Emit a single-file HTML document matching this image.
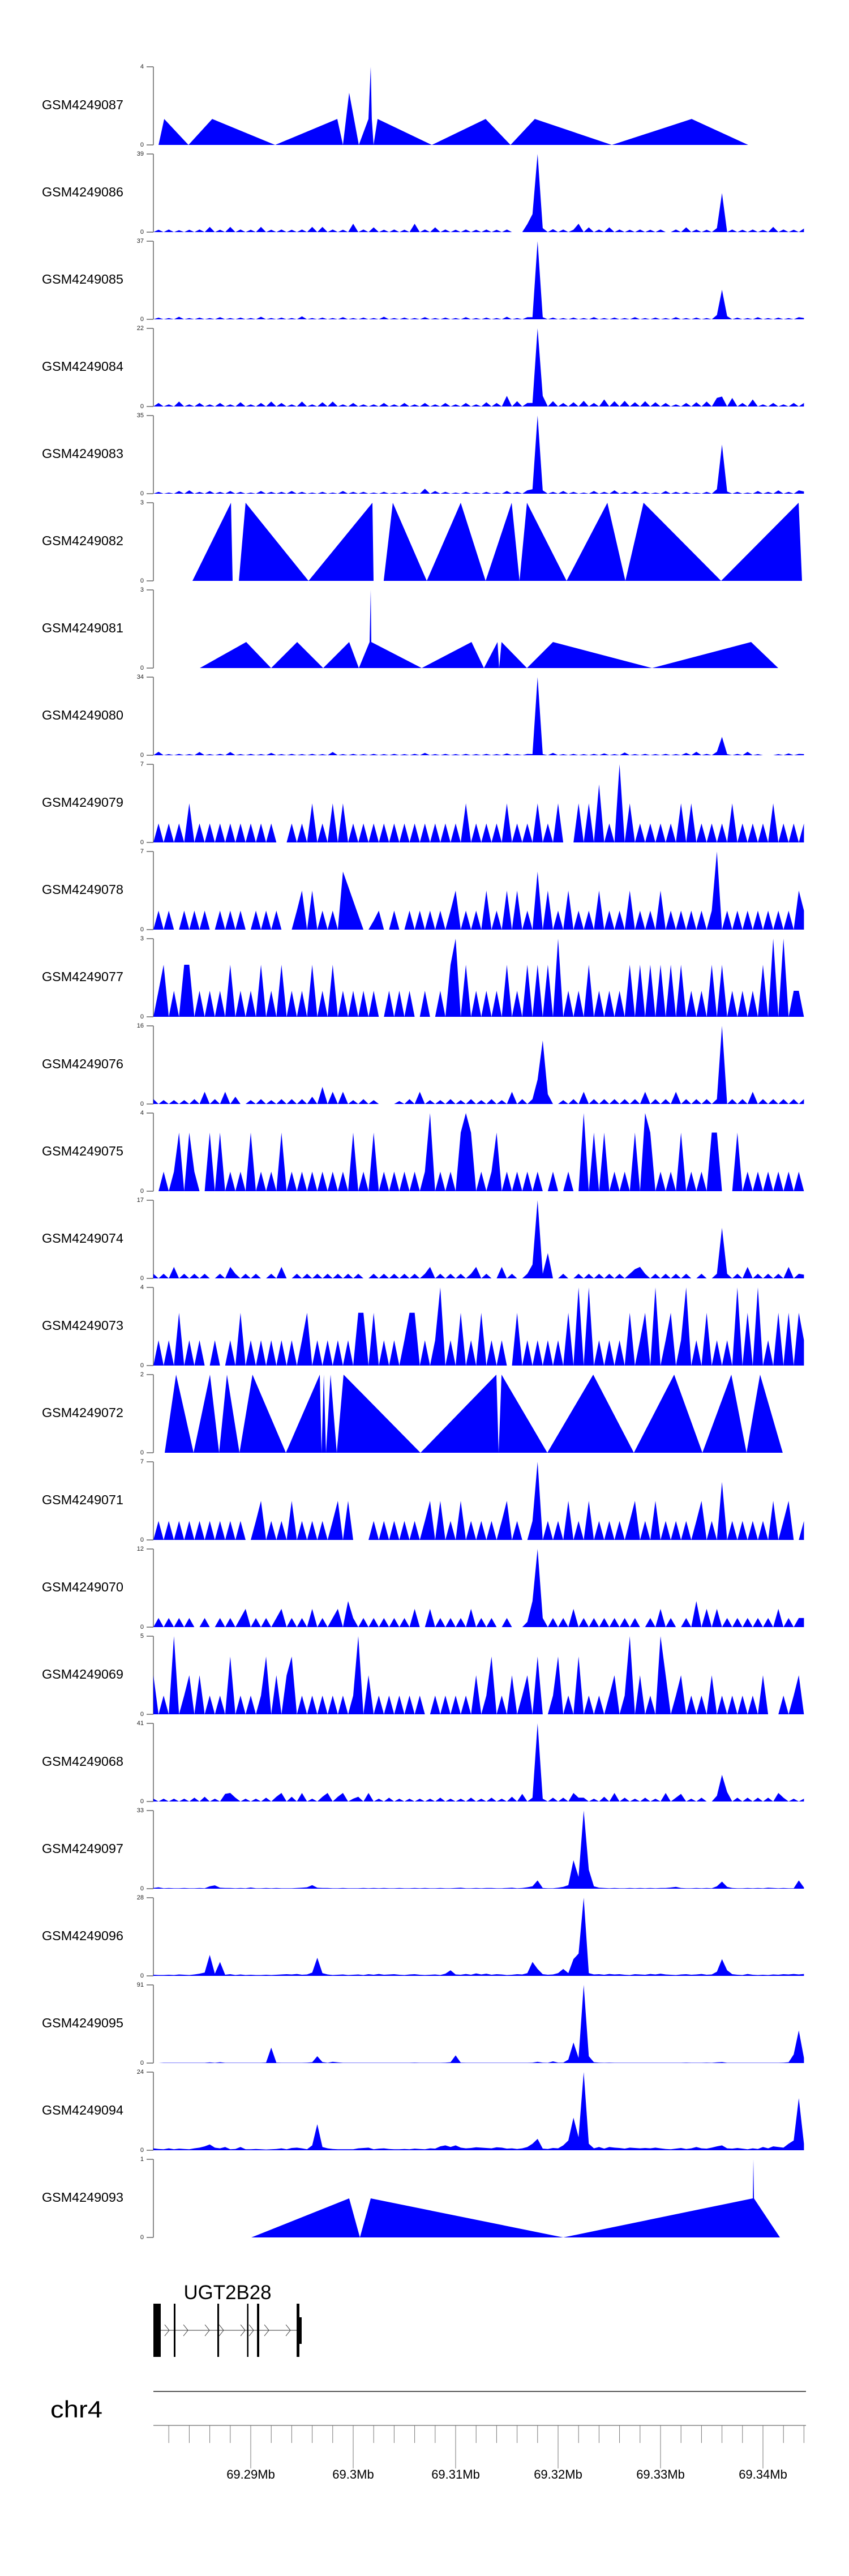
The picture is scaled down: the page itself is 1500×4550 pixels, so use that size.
<!DOCTYPE html>
<html><head><meta charset="utf-8">
<style>
html,body{margin:0;padding:0;background:#fff;}
svg{display:block;font-family:"Liberation Sans",Arial,sans-serif;}
</style></head>
<body>
<svg id="chart" xmlns="http://www.w3.org/2000/svg" width="1500" height="4550" viewBox="0 0 1500 4550">
<rect x="0" y="0" width="1500" height="4550" fill="#fff"/>
</svg>
<script>
// ===== data =====
const regionStartMb = 69.28;
const trackNames = ["GSM4249087","GSM4249086","GSM4249085","GSM4249084","GSM4249083","GSM4249082","GSM4249081","GSM4249080","GSM4249079","GSM4249078","GSM4249077","GSM4249076","GSM4249075","GSM4249074","GSM4249073","GSM4249072","GSM4249071","GSM4249070","GSM4249069","GSM4249068","GSM4249097","GSM4249096","GSM4249095","GSM4249094","GSM4249093"];
const trackMax = [4,39,37,22,35,3,3,34,7,7,3,16,4,17,4,2,7,12,5,41,33,28,91,24,1];
// grid tracks: values at 0.5 kb bins starting 0.5 kb after region start
const gridStartKb = 0.5;
const gridStepKb = 0.5;

// sparse tracks: positions in kb from region start
const p087 = [1.0,1.55,3.92,6.24,12.38,18.45,19.0,19.61,20.55,21.49,21.71,21.82,21.99,22.38,27.68,32.93,35.36,37.73,45.25,53.04,58.56];
const v087 = [0,1.33,0,1.33,0,1.33,0,2.67,0,1.33,4,1.33,0,1.33,0,1.33,0,1.33,0,1.33,0];
const p082 = [4.31,8.07,8.23,8.84,9.50,15.64,21.88,21.99,22.98,23.87,27.18,30.50,32.93,35.47,36.24,36.96,40.83,44.81,46.57,48.34,55.91,63.48,63.81];
const v082 = [0,3,0,0,3,0,3,0,0,3,0,3,0,3,0,3,0,3,0,3,0,3,0];
const p081 = [5.03,9.56,11.99,14.53,17.07,19.61,20.55,21.60,21.71,21.77,26.69,31.55,32.76,34.09,34.25,34.48,36.96,39.50,49.17,58.84,61.49];
const v081 = [0,1,0,1,0,1,0,1,3,1,0,1,0,1,0,1,0,1,0,1,0];
const p072 = [1.60,2.71,4.42,6.02,6.91,7.68,8.90,10.17,13.43,16.74,16.91,17.13,17.35,17.79,18.40,19.06,26.57,33.98,34.20,34.48,38.95,43.43,47.40,51.33,54.09,56.91,58.40,59.72,61.93];
const v072 = [0,2,0,2,0,2,0,2,0,2,0,2,0,2,0,2,0,2,0,2,0,2,0,2,0,2,0,2,0];
const p093 = [10.06,19.61,20.66,21.71,40.50,59.01,59.06,59.12,61.66];
const v093 = [0,0.5,0,0.5,0,0.5,1,0.5,0];

const v086 = [0,1.2,0,1.3,0,1,0,1.2,0,1.3,0,2.6,0,1.2,0,2.6,
0,1.3,0,1.2,0,2.6,0,1.2,0,1.3,0,1.2,0,1.3,0,2.6,
0,2.6,0,1.3,0,1.2,0,4.2,0,1.3,0,2.4,0,1.2,0,1.3,
0,1.2,0,4.2,0,1.3,0,2.4,0,1.3,0,1.2,0,1.3,0,1.2,
0,1.3,0,1.2,0,1.3,0,0,0,4,9,39,2,0,1.5,0,
1.3,0,1.2,4.2,0,2.4,0,1.3,0,2.4,0,1.3,0,1.2,0,1.3,
0,1.2,0,1.3,0,0,1.3,0,2.4,0,1.3,0,1.2,0,2,19.5,
0,1.3,0,1.2,0,1.3,0,1.2,0,2.6,0,1.3,0,1.2,0,1.8];
const v085 = [0,0.8,0,0.6,0,1.2,0,0.6,0,0.8,0,0.6,0,1,0,0.6,
0,0.8,0,0.6,0,1.2,0,0.6,0,0.8,0,0.6,0,1.4,0,0.6,
0,0.8,0,0.6,0,1,0,0.6,0,0.8,0,0.6,0,1.2,0,0.6,
0,0.8,0,0.6,0,1,0,0.6,0,0.8,0,0.6,0,1,0,0.6,
0,0.8,0,0.6,0,1.2,0,0.6,0,1,1,37,1,0,0.8,0,
0.6,0,0.8,0,0.6,0,1,0,0.6,0,0.8,0,0.6,0,1,0,
0.6,0,0.8,0,0.6,0,1,0,0.6,0,0.8,0,0.6,0,2,14,
1.5,0,0.8,0,0.6,0,1,0,0.6,0,0.8,0,0.6,0,1,0.6];
const v084 = [0,1,0,0.6,0,1.4,0,0.6,0,1,0,0.6,0,1,0,0.6,
0,1.2,0,0.6,0,1,0,1.4,0,1,0,0.6,0,1.4,0,0.6,
0,1.2,0,1.4,0,0.6,0,1,0,0.6,0,0.6,0,1,0,0.6,
0,1,0,0.6,0,1,0,0.6,0,1,0,0.6,0,1,0,0.6,
0,1.2,0,1,0,3,0,1.5,0,1,1,22,3,0,1.5,0,
1,0,1.2,0,1.6,0,1,0,2,0,1.5,0,1.6,0,1.2,0,
1.5,0,1.2,0,1,0,0.6,0,1,0,1.2,0,1.4,0,2.4,2.8,
0,2.4,0,1,0,2,0,0.6,0,1,0,0.6,0,1,0,1];
const v083 = [0,0.8,0,0.5,0,1.2,0,1.5,0,0.8,0,1.2,0,0.8,0,1.2,
0,0.8,0,0.5,0,1.2,0,0.8,0,0.8,0,1.2,0,0.8,0,0.5,
0,0.8,0,0.5,0,1.2,0,0.8,0,0.8,0,0.5,0,0.8,0,0.5,
0,0.8,0,0.5,0,2.2,0,1.2,0,0.8,0,0.5,0,0.8,0,0.5,
0,0.8,0,0.5,0,1.2,0,0.8,0,1.5,2,35,1.5,0,0.8,0,
1.2,0,0.8,0,0.5,0,1.2,0,0.8,0,1.5,0,0.8,0,1.2,0,
0.8,0,0.5,0,1.2,0,0.8,0,0.8,0,0.5,0,0.8,0,2,22,
1,0,0.8,0,0.5,0,1.2,0,0.8,0,1.5,0,0.8,0,1.5,1];
const v080 = [0,1.5,0,0.5,0,0.6,0,0.5,0,1.4,0,0.5,0,0.6,0,1.4,
0,0.5,0,0.6,0,0.5,0,1,0,0.5,0,0.6,0,0.5,0,0.6,
0,0.5,0,1.4,0,0.5,0,0.6,0,0.5,0,0.6,0,0.5,0,0.6,
0,0.5,0,0.6,0,1,0,0.5,0,0.6,0,0.5,0,0.6,0,0.5,
0,0.6,0,0.5,0,0.8,0,0.5,0,0.6,0.5,34,0.5,0,1,0,
0.5,0,0.6,0,0.5,0,0.6,0,0.8,0,0.5,0,1.2,0,0.5,0,
0.6,0,0.5,0,0.6,0,0.5,0,1,0,1.5,0,0.6,0,1.5,8,
0.5,0,0.6,0,1.5,0,0.5,0,0,0,0.5,0,0.8,0,0.6,0.5];
const v079 = [0,1.7,0,1.7,0,1.7,0,3.5,0,1.7,0,1.7,0,1.7,0,1.7,
0,1.7,0,1.7,0,1.7,0,1.7,0,0,0,1.7,0,1.7,0,3.5,
0,1.7,0,3.5,0,3.5,0,1.7,0,1.7,0,1.7,0,1.7,0,1.7,
0,1.7,0,1.7,0,1.7,0,1.7,0,1.7,0,1.7,0,3.5,0,1.7,
0,1.7,0,1.7,0,3.5,0,1.7,0,1.7,0,3.5,0,1.7,0,3.5,
0,0,0,3.5,0,3.5,0,5.2,0,1.7,0,7,0,3.5,0,1.7,
0,1.7,0,1.7,0,1.7,0,3.5,0,3.5,0,1.7,0,1.7,0,1.7,
0,3.5,0,1.7,0,1.7,0,1.7,0,3.5,0,1.7,0,1.7,0,1.7];
const v078 = [0,1.7,0,1.7,0,0,1.7,0,1.7,0,1.7,0,0,1.7,0,1.7,
0,1.7,0,0,1.7,0,1.7,0,1.7,0,0,0,1.7,3.5,0,3.5,
0,1.7,0,1.7,0,5.2,3.9,2.6,1.3,0,0,0.8,1.7,0,0,1.7,
0,0,1.7,0,1.7,0,1.7,0,1.7,0,1.7,3.5,0,1.7,0,1.7,
0,3.5,0,1.7,0,3.5,0,3.5,0,1.7,0,5.2,0,3.5,0,1.7,
0,3.5,0,1.7,0,1.7,0,3.5,0,1.7,0,1.7,0,3.5,0,1.7,
0,1.7,0,3.5,0,1.7,0,1.7,0,1.7,0,1.7,0,1.7,7,0,
1.7,0,1.7,0,1.7,0,1.7,0,1.7,0,1.7,0,1.7,0,3.5,1.7];
const v077 = [0,1,2,0,1,0,2,2,0,1,0,1,0,1,0,2,
0,1,0,1,0,2,0,1,0,2,0,1,0,1,0,2,
0,1,0,2,0,1,0,1,0,1,0,1,0,0,1,0,
1,0,1,0,0,1,0,0,1,0,2,3,0,2,0,1,
0,1,0,1,0,2,0,1,0,2,0,2,0,2,0,3,
0,1,0,1,0,2,0,1,0,1,0,1,0,2,0,2,
0,2,0,2,0,2,0,2,0,1,0,1,0,2,0,2,
0,1,0,1,0,1,0,2,0,3,0,3,0,1,1,0];
const v076 = [1,0,0.8,0,0.8,0,0.8,0,1,0,2.5,0,1,0,2.5,0,
1.5,0,0,0.8,0,1,0,0.8,0,1,0,1,0,1,0,1.5,
0,3.5,0,2.5,0,2.5,0,0.8,0,1,0,0.8,0,0,0,0,
0.6,0,1,0,2.5,0,0.8,0,0.8,0,1,0,0.8,0,1,0,
0.8,0,1,0,0.8,0,2.5,0,1,0,1,5,13,2,0,0,
0.8,0,1,0,2.5,0,1,0,1,0,1,0,1,0,1,0,
2.5,0,1,0,1,0,2.5,0,1,0,1,0,1,0,1,16,
0,1,0,1,0,2.5,0,1,0,1,0,1,0,1,0,1];
const v075 = [0,0,1,0,1,3,0,3,1,0,0,3,0,3,0,1,
0,1,0,3,0,1,0,1,0,3,0,1,0,1,0,1,
0,1,0,1,0,1,0,3,0,1,0,3,0,1,0,1,
0,1,0,1,0,1,4,0,1,0,1,0,3,4,3,0,
1,0,1,3,0,1,0,1,0,1,0,1,0,0,1,0,
0,1,0,0,4,0,3,0,3,0,1,0,1,0,3,0,
4,3,0,1,0,1,0,3,0,1,0,1,0,3,3,0,
0,0,3,0,1,0,1,0,1,0,1,0,1,0,1,0];
const v074 = [1,0,1,0,2.5,0,1,0,1,0,1,0,0,1,0,2.5,
1,0,1,0,1,0,0,1,0,2.5,0,0,1,0,1,0,
1,0,1,0,1,0,1,0,1,0,0,1,0,1,0,1,
0,1,0,1,0,1,2.5,0,1,0,1,0,1,0,1,2.5,
0,1,0,0,2.5,0,1,0,0,1,3,17,1,5.5,0,0,
1,0,0,1,0,1,0,1,0,1,0,1,0,1,2,2.5,
1,0,1,0,1,0,1,0,1,0,0,1,0,0,1,11,
1,0,1,0,2.5,0,1,0,1,0,1,0,2.5,0,1,0.8];
const v073 = [0,1.3,0,1.3,0,2.7,0,1.3,0,1.3,0,0,1.3,0,0,1.3,
0,2.7,0,1.3,0,1.3,0,1.3,0,1.3,0,1.3,0,1.3,2.7,0,
1.3,0,1.3,0,1.3,0,1.3,0,2.7,2.7,0,2.7,0,1.3,0,1.3,
0,1.3,2.7,2.7,0,1.3,0,1.3,4,0,1.3,0,2.7,0,1.3,0,
2.7,0,1.3,0,1.3,0,0,2.7,0,1.3,0,1.3,0,1.3,0,1.3,
0,2.7,0,4,0,4,0,1.3,0,1.3,0,1.3,0,2.7,0,1.3,
2.7,0,4,0,1.3,2.7,0,1.3,4,0,1.3,0,2.7,0,1.3,0,
1.3,0,4,0,2.7,0,4,0,1.3,0,2.7,0,2.7,0,2.7,1.3];
const v071 = [0,1.7,0,1.7,0,1.7,0,1.7,0,1.7,0,1.7,0,1.7,0,1.7,
0,1.7,0,0,1.7,3.5,0,1.7,0,1.7,0,3.5,0,1.7,0,1.7,
0,1.7,0,1.7,3.5,0,3.5,0,0,0,0,1.7,0,1.7,0,1.7,
0,1.7,0,1.7,0,1.7,3.5,0,3.5,0,1.7,0,3.5,0,1.7,0,
1.7,0,1.7,0,1.7,3.5,0,1.7,0,0,1.7,7,0,1.7,0,1.7,
0,3.5,0,1.7,0,3.5,0,1.7,0,1.7,0,1.7,0,1.7,3.5,0,
1.7,0,3.5,0,1.7,0,1.7,0,1.7,0,1.7,3.5,0,1.7,0,5.2,
0,1.7,0,1.7,0,1.7,0,1.7,0,3.5,0,1.7,3.5,0,0,1.7];
const v070 = [0,1.4,0,1.4,0,1.4,0,1.4,0,0,1.4,0,0,1.4,0,1.4,
0,1.4,2.8,0,1.4,0,1.4,0,1.4,2.8,0,1.4,0,1.4,0,2.8,
0,1.4,0,1.4,2.8,0,4,1.4,0,1.4,0,1.4,0,1.4,0,1.4,
0,1.4,0,2.8,0,0,2.8,0,1.4,0,1.4,0,1.4,0,2.8,0,
1.4,0,1.4,0,0,1.4,0,0,0,0.8,4,12,1.4,0,1.4,0,
1.4,0,2.8,0,1.4,0,1.4,0,1.4,0,1.4,0,1.4,0,1.4,0,
0,1.4,0,2.8,0,1.4,0,0,1.4,0,4,0,2.8,0,2.8,0,
1.4,0,1.4,0,1.4,0,1.4,0,1.4,0,2.8,0,1.4,0,1.4,1.4];
const v069 = [2.5,0,1.2,0,5,0,1.2,2.5,0,2.5,0,1.2,0,1.2,0,3.7,
0,1.2,0,1.2,0,1.2,3.7,0,2.5,0,2.5,3.7,0,1.2,0,1.2,
0,1.2,0,1.2,0,1.2,0,1.2,5,0,2.5,0,1.2,0,1.2,0,
1.2,0,1.2,0,1.2,0,0,1.2,0,1.2,0,1.2,0,1.2,0,2.5,
0,1.2,3.7,0,1.2,0,2.5,0,1.2,2.5,0,3.7,0,0,1.2,3.7,
0,1.2,0,3.7,0,1.2,0,1.2,0,1.2,2.5,0,1.2,5,0,2.5,
0,1.2,0,5,2.5,0,1.2,2.5,0,1.2,0,1.2,0,2.5,0,1.2,
0,1.2,0,1.2,0,1.2,0,2.5,0,0,0,1.2,0,1.2,2.5,0];
const v068 = [1.5,0,1.5,0,1.5,0,1.5,0,2,0,2.5,0,1.5,0,4,4.5,
2,0,1.5,0,1.5,0,2,0,2.5,4.5,0,2.5,0,4.5,0,1.5,
0,2.5,4.5,0,2.5,4.5,0,1.5,2.5,0,4.5,0,1.5,0,2,0,
1.5,0,1.5,0,1.5,0,1.5,0,2,0,1.5,0,1.5,0,2,0,
1.5,0,2,0,1.5,0,2.5,0,4,0,2,41,1.5,0,2,0,
2,0,4.5,2,2,0,1.5,0,2.5,0,4.5,0,2,0,1.5,0,
2,0,1.5,0,4.5,0,2,4,0,1.5,0,2,0,0,3,14,
5,0,2,0,2,0,2,0,2,0,4.5,2,0,1.5,0,1.5];
const v097 = [0.3,0.6,0.2,0.3,0.2,0.2,0.3,0.2,0.2,0.3,0.2,1,1.4,0.4,0.3,0.3,
0.2,0.3,0.2,0.5,0.2,0.2,0.3,0.2,0.3,0.2,0.2,0.2,0.3,0.4,0.6,1.5,
0.4,0.3,0.3,0.2,0.2,0.3,0.2,0.2,0.2,0.3,0.2,0.3,0.2,0.3,0.2,0.2,
0.3,0.2,0.2,0.3,0.2,0.3,0.2,0.2,0.3,0.2,0.2,0.3,0.4,0.2,0.2,0.3,
0.2,0.3,0.3,0.2,0.2,0.3,0.4,0.2,0.3,0.6,1,3.5,0.3,0.2,0.2,0.4,
0.8,1.5,12,5,33,8,1,0.4,0.3,0.2,0.3,0.2,0.2,0.3,0.2,0.3,
0.2,0.3,0.2,0.3,0.3,0.5,0.8,0.3,0.2,0.2,0.3,0.2,0.3,0.2,1,3,
0.8,0.3,0.2,0.2,0.3,0.2,0.3,0.2,0.4,0.3,0.2,0.3,0.2,0.2,3.5,0.5];
const v096 = [0.4,0.3,0.3,0.4,0.3,0.5,0.4,0.3,0.5,0.8,1.2,7.5,0.8,5,0.4,0.6,
0.3,0.5,0.3,0.4,0.3,0.3,0.4,0.3,0.4,0.5,0.6,0.5,0.7,0.4,0.5,1.2,
6.5,1,0.5,0.3,0.4,0.5,0.3,0.4,0.5,0.3,0.6,0.4,0.7,0.4,0.5,0.6,
0.4,0.3,0.5,0.6,0.4,0.3,0.4,0.5,0.3,0.8,2,0.5,0.4,0.7,0.4,0.9,
0.5,0.8,0.4,0.6,0.5,0.3,0.4,0.6,0.5,1,5,2.5,0.6,0.4,0.5,1,
2.5,1,6,8,28,1,0.5,0.6,0.4,0.7,0.5,0.6,0.4,0.3,0.6,0.5,
0.4,0.7,0.5,0.8,0.5,0.4,0.3,0.5,0.6,0.4,0.5,0.7,0.4,0.5,1.5,6,
2,0.6,0.4,0.3,0.7,0.4,0.3,0.4,0.3,0.5,0.4,0.6,0.5,0.7,0.5,0.7];
const v095 = [0,0,0.3,0.3,0.3,0.3,0.3,0.3,0.3,0.3,0.3,0.8,0.3,1,0.3,0.3,
0.3,0.3,0.3,0.3,0.3,0.3,0.6,18,0.5,0.3,0.3,0.3,0.3,0.3,0.5,1,
8,1.2,0.3,1.5,0.8,0.3,0.3,0.3,0.3,0.3,0.3,0.3,0.3,0.3,0.3,0.3,
0.3,0.3,0.3,0.5,0.3,0.3,0.3,0.3,0.3,0.5,1,9,0.5,0.3,0.3,0.3,
0.3,0.3,0.3,0.3,0.3,0.3,0.3,0.3,0.3,0.3,0.5,1.5,0.5,0.3,2,0.5,
0.5,4,24,6,91,8,1,0.5,0.3,0.5,0.3,0.3,0.3,0.3,0.3,0.3,
0.3,0.3,0.3,0.3,0.3,0.3,0.3,0.3,0.5,0.3,0.3,0.3,0.5,0.3,0.8,1.2,
0.3,0.3,0.3,0.3,0.3,0.3,0.3,0.3,0.3,0.3,0.3,0.5,1,10,38,6];
const v094 = [0.6,0.4,0.3,0.6,0.3,0.5,0.4,0.3,0.6,0.8,1.2,1.8,0.8,0.6,1,0.3,
0.4,1,0.3,0.3,0.4,0.3,0.2,0.3,0.4,0.6,0.3,0.7,0.8,0.6,0.3,1.5,
8,1,0.6,0.4,0.3,0.3,0.3,0.3,0.6,0.7,0.8,0.3,0.5,0.6,0.4,0.3,
0.3,0.4,0.3,0.5,0.4,0.3,0.6,0.5,1.2,1.5,1,1.5,0.8,0.6,0.7,0.9,
0.8,0.7,0.6,0.9,0.8,0.5,0.6,0.4,0.6,1,2,3.5,0.5,0.4,0.7,0.6,
1.5,3,10,4,24,2,0.6,1,0.5,1,0.8,0.7,0.5,0.8,0.7,0.6,
0.7,0.6,0.8,0.6,0.4,0.3,0.5,0.7,0.4,0.6,1,0.6,0.5,0.8,1.2,1.5,
0.6,0.5,0.7,0.5,0.3,0.6,0.4,1,0.6,1.2,1,0.8,2,3,16,2];

const gridValues = {1:v086,2:v085,3:v084,4:v083,7:v080,8:v079,9:v078,10:v077,11:v076,12:v075,13:v074,14:v073,16:v071,17:v070,18:v069,19:v068,20:v097,21:v096,22:v095,23:v094};
const pointPositions = {0:p087,5:p082,6:p081,15:p072,24:p093};
const pointValues = {0:v087,5:v082,6:v081,15:v072,24:v093};

// gene model (kb from region start)
const geneName = "UGT2B28";
const exonStarts = [0.497,2.486,6.74,9.64,10.61,14.48];
const exonEnds = [1.215,2.652,6.91,9.75,10.83,14.75];
const utrStarts = [14.75];
const utrEnds = [14.97];
const chevronPos = [1.82,3.65,5.75,7.13,9.23,10.06,11.55,13.65];
const geneStartKb = 0.497, geneEndKb = 14.75;

// genome axis
const majorTicksMb = [69.29,69.30,69.31,69.32,69.33,69.34];
const majorLabels = ["69.29Mb","69.3Mb","69.31Mb","69.32Mb","69.33Mb","69.34Mb"];
const minorTicksKb = [2,4,6,8,10,12,14,16,18,20,22,24,26,28,30,32,34,36,38,40,42,44,46,48,50,52,54,56,58,60,62,64];
const chromName = "chr4";

// ===== layout =====
const NS = "http://www.w3.org/2000/svg";
const svg = document.getElementById("chart");
const X0 = 443, PX_PER_KB = 18.1; // 69.29Mb at x=443
function xKb(kb){ return X0 + (kb - 10) * PX_PER_KB; }
function xMb(mb){ return xKb((mb - regionStartMb) * 1000); }
const TOP0 = 118, PITCH = 154, TH = 138, AXIS_X = 271;
function mk(tag, attrs){ const e = document.createElementNS(NS, tag); for (const k in attrs) e.setAttribute(k, attrs[k]); svg.appendChild(e); return e; }

for (let k = 0; k < trackNames.length; k++) {
  const top = TOP0 + PITCH * k, bot = top + TH, mx = trackMax[k];
  const y = v => bot - (v / mx) * TH;
  let lbl = mk("text", {x:74, y:top + 69, "font-size":23, "dominant-baseline":"middle", textLength:144, lengthAdjust:"spacingAndGlyphs", fill:"#000"});
  lbl.textContent = trackNames[k];
  
  
  let ax = mk("path", {d:`M${AXIS_X},${top}V${bot}M${AXIS_X-12},${top}H${AXIS_X}M${AXIS_X-12},${bot}H${AXIS_X}`, stroke:"#666", "stroke-width":1.5, fill:"none"});
  
  
  let t1 = mk("text", {x:254, y:top, "font-size":11, "text-anchor":"end", "dominant-baseline":"middle", fill:"#222"});
  t1.textContent = String(mx);
  
  
  let t0 = mk("text", {x:254, y:bot, "font-size":11, "text-anchor":"end", "dominant-baseline":"middle", fill:"#222"});
  t0.textContent = "0";
  
  
  let pts = [];
  if (gridValues[k]) {
    const vals = gridValues[k];
    for (let i = 0; i < vals.length; i++) pts.push([xKb(gridStartKb + gridStepKb * i), y(vals[i])]);
  } else {
    const ps = pointPositions[k], vs = pointValues[k];
    for (let i = 0; i < ps.length; i++) pts.push([xKb(ps[i]), y(vs[i])]);
  }
  let d = `M${pts[0][0].toFixed(1)},${bot}`;
  for (const p of pts) d += `L${p[0].toFixed(1)},${p[1].toFixed(1)}`;
  d += `L${pts[pts.length-1][0].toFixed(1)},${bot}Z`;
  let area = mk("path", {d:d, fill:"#0000ff", stroke:"none"});
  
  
}

// gene track
const GY = 4116, GT = 4069, GB = 4163;
let gl = mk("line", {x1:xKb(geneStartKb), y1:GY, x2:xKb(geneEndKb), y2:GY, stroke:"#333", "stroke-width":1});


for (const c of chevronPos) {
  const cx = xKb(c);
  let ch = mk("path", {d:`M${cx-4},${GY-10}L${cx+4},${GY}L${cx-4},${GY+10}`, stroke:"#444", "stroke-width":1, fill:"none"});
  
  
}
for (let i = 0; i < exonStarts.length; i++) {
  const x1 = xKb(exonStarts[i]), x2 = xKb(exonEnds[i]);
  let ex = mk("rect", {x:x1, y:GT, width:Math.max(2.5, x2 - x1), height:GB - GT, fill:"#000"});
  
  
}
for (let i = 0; i < utrStarts.length; i++) {
  const x1 = xKb(utrStarts[i]), x2 = xKb(utrEnds[i]);
  let u = mk("rect", {x:x1, y:4093, width:x2 - x1, height:47, fill:"#000"});
  
  
}
let gn = mk("text", {x:402, y:4061, "font-size":35, "text-anchor":"middle", textLength:155, lengthAdjust:"spacingAndGlyphs", fill:"#000"});
gn.textContent = geneName;



// genome axis
let cl = mk("line", {x1:271, y1:4224, x2:1424, y2:4224, stroke:"#555", "stroke-width":2});


let cn = mk("text", {x:89, y:4270, "font-size":42, textLength:92, lengthAdjust:"spacingAndGlyphs", fill:"#000"});
cn.textContent = chromName;


let al = mk("line", {x1:271, y1:4284, x2:1424, y2:4284, stroke:"#444", "stroke-width":1});


for (const t of minorTicksKb) {
  const tx = xKb(t);
  let tk = mk("line", {x1:tx, y1:4284, x2:tx, y2:4315, stroke:"#777", "stroke-width":1});
  
  
}
for (let i = 0; i < majorTicksMb.length; i++) {
  const tx = xMb(majorTicksMb[i]);
  let tk = mk("line", {x1:tx, y1:4284, x2:tx, y2:4360, stroke:"#777", "stroke-width":1});
  
  
  let tl = mk("text", {x:tx, y:4378, "font-size":22, "text-anchor":"middle", fill:"#000"});
  tl.textContent = majorLabels[i];
  
  
}
</script>
</body></html>
